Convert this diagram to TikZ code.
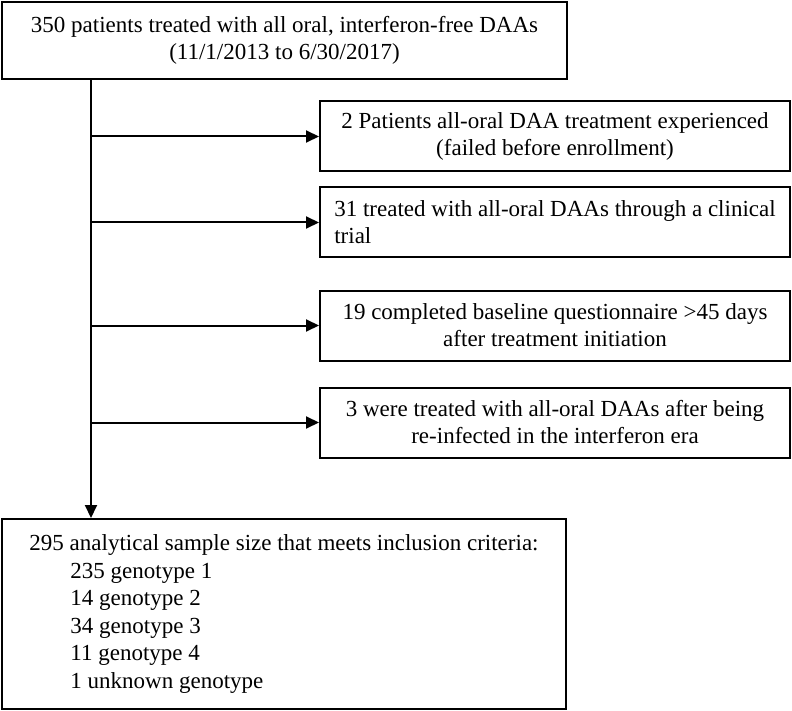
\documentclass[tikz,border=0pt]{standalone}
\usepackage{fontspec}
\setmainfont{Liberation Serif}
\usetikzlibrary{arrows.meta}

\begin{document}
\begin{tikzpicture}[x=0.5pt,y=-0.5pt,
  box/.style={draw,line width=1pt,inner sep=0pt,font=\fontsize{11.5}{13.5}\selectfont},
  excl/.style={box,minimum width=235pt,minimum height=35pt,align=center},
  flow/.style={line width=1pt,-{Triangle[length=6.5pt,width=6pt]}}]

\useasboundingbox (0,0) rectangle (792,711);

% cohort
\node[box,minimum width=282.5pt,minimum height=38.5pt,align=center] (cohort) at (284.5,40.5)
  {350 patients treated with all oral, interferon-free DAAs\\(11/1/2013 to 6/30/2017)};

% exclusions
\node[excl] (ex1) at (555,136.5) {2 Patients all-oral DAA treatment experienced\\(failed before enrollment)};
\node[excl,align=left] (ex2) at (555,222.5) {31 treated with all-oral DAAs through a clinical\\trial};
\node[excl] (ex3) at (555,325.5) {19 completed baseline questionnaire >45 days\\after treatment initiation};
\node[excl] (ex4) at (555,422.5) {3 were treated with all-oral DAAs after being\\re-infected in the interferon era};

% analytical sample
\node[box,minimum width=282pt,minimum height=95pt,align=left,
  font=\fontsize{11.5}{13.75}\selectfont] (sample) at (284,614)
  {295 analytical sample size that meets inclusion criteria:\\
   \hspace*{20.5pt}235 genotype 1\\
   \hspace*{20.5pt}14 genotype 2\\
   \hspace*{20.5pt}34 genotype 3\\
   \hspace*{20.5pt}11 genotype 4\\
   \hspace*{20.5pt}1 unknown genotype};

\coordinate (spine) at (91,0);
\draw[flow] (cohort.south -| spine) -- (spine |- sample.north);
\foreach \n in {ex1,ex2,ex3,ex4}
  \draw[flow] (spine |- \n.west) -- (\n.west);

\end{tikzpicture}
\end{document}
